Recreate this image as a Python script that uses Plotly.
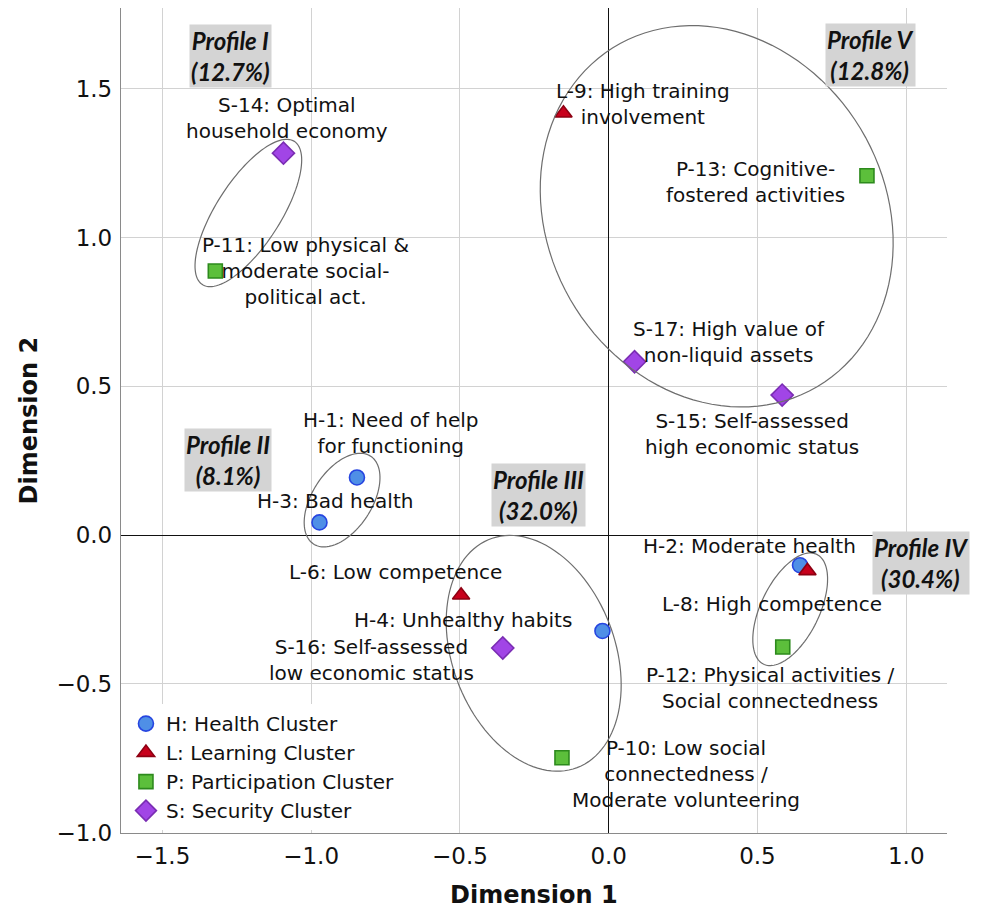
import numpy as np
import plotly.graph_objects as go

# ---------------- data ----------------
health_codes = ["H-1", "H-2", "H-3", "H-4"]
health_x = [-0.846, 0.643, -0.972, -0.021]
health_y = [0.194, -0.101, 0.043, -0.322]
health_text = ["H-1: Need of help<br>for functioning", "H-2: Moderate health",
               "H-3: Bad health", "H-4: Unhealthy habits"]

learning_codes = ["L-6", "L-8", "L-9"]
learning_x = [-0.496, 0.668, -0.152]
learning_y = [-0.202, -0.120, 1.418]
learning_text = ["L-6: Low competence", "L-8: High competence",
                 "L-9: High training<br>involvement"]

participation_codes = ["P-10", "P-11", "P-12", "P-13"]
participation_x = [-0.157, -1.322, 0.585, 0.868]
participation_y = [-0.748, 0.888, -0.376, 1.208]
participation_text = ["P-10: Low social<br>connectedness /<br>Moderate volunteering",
                      "P-11: Low physical &<br>moderate social-<br>political act.",
                      "P-12: Physical activities /<br>Social connectedness",
                      "P-13: Cognitive-<br>fostered activities"]

security_codes = ["S-14", "S-15", "S-16", "S-17"]
security_x = [-1.093, 0.583, -0.356, 0.087]
security_y = [1.284, 0.471, -0.379, 0.583]
security_text = ["S-14: Optimal<br>household economy",
                 "S-15: Self-assessed<br>high economic status",
                 "S-16: Self-assessed<br>low economic status",
                 "S-17: High value of<br>non-liquid assets"]

profile_names = ["Profile I", "Profile II", "Profile III", "Profile IV", "Profile V"]
profile_shares = ["12.7%", "8.1%", "32.0%", "30.4%", "12.8%"]
# ellipse: centre x, centre y, semi-axis a, semi-axis b, angle (deg)
profile_cx = [-1.211, -0.896, -0.252, 0.610, 0.363]
profile_cy = [1.083, 0.118, -0.397, -0.249, 1.072]
profile_a = [0.286, 0.176, 0.411, 0.205, 0.665]
profile_b = [0.108, 0.100, 0.273, 0.098, 0.566]
profile_ang = [57.3, 57.0, -69.2, 64.1, -59.5]

# ---------------- layout helpers (pixel offsets of text) ----------------
label_dx = {"H-1": 34, "H-2": -51, "H-3": 16, "H-4": -139,
            "L-6": -66, "L-8": -35, "L-9": 80,
            "P-10": 124, "P-11": 90, "P-12": -12, "P-13": -111,
            "S-14": 4, "S-15": -30, "S-16": -131, "S-17": 94}
label_dy = {"H-1": 44, "H-2": 19, "H-3": 21, "H-4": 11,
            "L-6": 23, "L-8": -33, "L-9": 9,
            "P-10": -16, "P-11": 0, "P-12": -41, "P-13": -6,
            "S-14": 35, "S-15": -39, "S-16": -12, "S-17": 20}
# profile tag positions in paper fraction
profile_px = [0.132, 0.130, 0.505, 0.969, 0.907]
profile_py = [0.942, 0.452, 0.410, 0.327, 0.943]

FONT = "DejaVu Sans"
fig = go.Figure()

series = [
    ("H: Health Cluster", health_codes, health_x, health_y, health_text, "circle", 15, "#4f8fe6", "#2645e0"),
    ("L: Learning Cluster", learning_codes, learning_x, learning_y, learning_text, "triangle-up", 15, "#c8001c", "#8e0012"),
    ("P: Participation Cluster", participation_codes, participation_x, participation_y, participation_text, "square", 14, "#5cbf3b", "#2d8a1d"),
    ("S: Security Cluster", security_codes, security_x, security_y, security_text, "diamond", 17, "#a145e6", "#7a2db3"),
]

annotations = []
for name, codes, xs, ys, texts, sym, size, fill, edge in series:
    fig.add_trace(go.Scatter(
        x=xs, y=ys, mode="markers", name=name,
        marker=dict(symbol=sym, size=size, color=fill, line=dict(color=edge, width=1.6)),
        hoverinfo="skip"))
    for c, x, y, t in zip(codes, xs, ys, texts):
        annotations.append(dict(x=x, y=y, xref="x", yref="y", text=t, showarrow=False,
                                xshift=label_dx[c], yshift=label_dy[c],
                                xanchor="center", yanchor="middle", align="center",
                                font=dict(family=FONT, size=20, color="#111")))

shapes = []
t = np.linspace(0, 2 * np.pi, 120)
for cx, cy, a, b, ang in zip(profile_cx, profile_cy, profile_a, profile_b, profile_ang):
    th = np.deg2rad(ang)
    ex = cx + a * np.cos(t) * np.cos(th) - b * np.sin(t) * np.sin(th)
    ey = cy + a * np.cos(t) * np.sin(th) + b * np.sin(t) * np.cos(th)
    path = "M " + " L ".join(f"{u:.4f},{v:.4f}" for u, v in zip(ex, ey)) + " Z"
    shapes.append(dict(type="path", path=path, xref="x", yref="y",
                       line=dict(color="#6e6e6e", width=1.2), layer="above"))

for n, s, px, py in zip(profile_names, profile_shares, profile_px, profile_py):
    annotations.append(dict(x=px, y=py, xref="paper", yref="paper",
                            text=f"<b><i>{n}<br>({s})</i></b>", showarrow=False,
                            xanchor="center", yanchor="middle", align="center",
                            bgcolor="#d4d4d4", borderpad=1,
                            font=dict(family="Lato", size=24, color="#111")))

annotations.append(dict(x=0.5, y=0, xref="paper", yref="paper", text="<b>Dimension 1</b>",
                        showarrow=False, xanchor="center", yanchor="middle", yshift=-62,
                        font=dict(family=FONT, size=24, color="#111")))
annotations.append(dict(x=0, y=0.5, xref="paper", yref="paper", text="<b>Dimension 2</b>",
                        showarrow=False, xanchor="center", yanchor="middle", xshift=-93,
                        textangle=-90, font=dict(family=FONT, size=24, color="#111")))

axis_common = dict(showgrid=True, gridcolor="#d2d2d2", gridwidth=1,
                   zeroline=True, zerolinecolor="#111", zerolinewidth=1.3,
                   showline=True, linecolor="#8a8a8a", linewidth=1.3, mirror=False,
                   ticks="", tickfont=dict(family=FONT, size=23, color="#111"),
                   dtick=0.5, tickformat=".1f")

fig.update_layout(
    width=974, height=907,
    margin=dict(l=113, r=35, t=0, b=82),
    paper_bgcolor="white", plot_bgcolor="white",
    xaxis=dict(range=[-1.639, 1.137], tick0=0, ticklabelstandoff=2, **axis_common),
    yaxis=dict(range=[-1.001, 1.772], tick0=0, ticklabelstandoff=3, **axis_common),
    showlegend=True,
    legend=dict(x=0.006, y=0.0035, xanchor="left", yanchor="bottom",
                bgcolor="white", borderwidth=0, tracegroupgap=0,
                font=dict(family=FONT, size=20, color="#111")),
    annotations=annotations, shapes=shapes,
)

fig.write_html("out.html")
